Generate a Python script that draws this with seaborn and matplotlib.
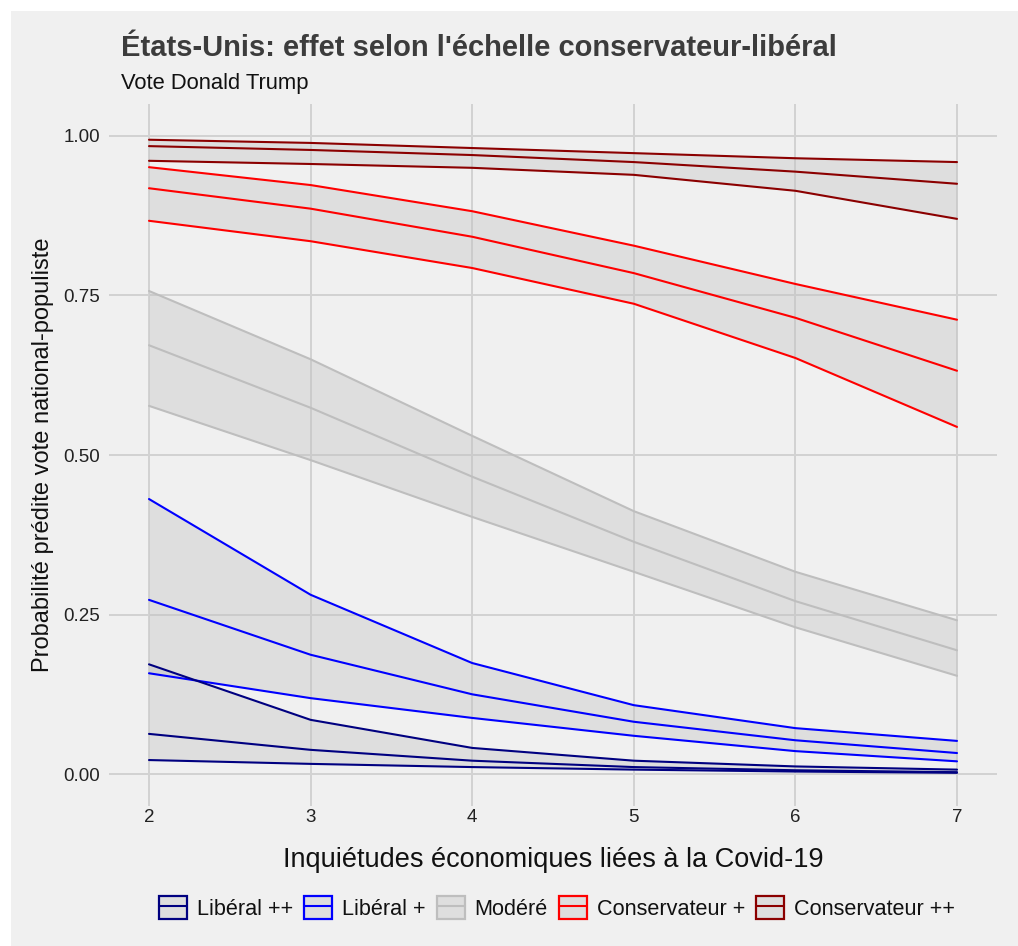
import numpy as np
import pandas as pd
import matplotlib
matplotlib.use("Agg")
import matplotlib.pyplot as plt
import seaborn as sns
from matplotlib.patches import Patch, Rectangle
from matplotlib.lines import Line2D
from matplotlib.legend_handler import HandlerTuple

x_vals = [2, 3, 4, 5, 6, 7]
groups = ["Libéral ++", "Libéral +", "Modéré", "Conservateur +", "Conservateur ++"]
colors = ["#000080", "#0000FF", "#BEBEBE", "#FF0000", "#8B0000"]

lib2_est = [0.063, 0.038, 0.021, 0.011, 0.006, 0.003]
lib2_lo = [0.022, 0.016, 0.011, 0.007, 0.004, 0.002]
lib2_hi = [0.172, 0.085, 0.041, 0.021, 0.012, 0.007]

lib1_est = [0.273, 0.187, 0.125, 0.082, 0.053, 0.033]
lib1_lo = [0.158, 0.119, 0.088, 0.060, 0.036, 0.020]
lib1_hi = [0.431, 0.281, 0.174, 0.108, 0.072, 0.052]

mod_est = [0.672, 0.574, 0.466, 0.364, 0.271, 0.194]
mod_lo = [0.577, 0.492, 0.403, 0.317, 0.230, 0.154]
mod_hi = [0.757, 0.650, 0.530, 0.412, 0.317, 0.241]

con1_est = [0.918, 0.886, 0.842, 0.785, 0.715, 0.632]
con1_lo = [0.867, 0.835, 0.793, 0.737, 0.652, 0.544]
con1_hi = [0.951, 0.923, 0.882, 0.828, 0.768, 0.712]

con2_est = [0.984, 0.978, 0.970, 0.959, 0.944, 0.925]
con2_lo = [0.961, 0.956, 0.950, 0.939, 0.914, 0.870]
con2_hi = [0.994, 0.989, 0.981, 0.973, 0.965, 0.959]

series = {
    "Libéral ++": (lib2_est, lib2_lo, lib2_hi),
    "Libéral +": (lib1_est, lib1_lo, lib1_hi),
    "Modéré": (mod_est, mod_lo, mod_hi),
    "Conservateur +": (con1_est, con1_lo, con1_hi),
    "Conservateur ++": (con2_est, con2_lo, con2_hi),
}

rows = []
for g in groups:
    e, lo, hi = series[g]
    for xi, a, b, c in zip(x_vals, e, lo, hi):
        rows.append({"x": xi, "group": g, "est": a, "lo": b, "hi": c})
df = pd.DataFrame(rows)

sns.set_theme(style="white")
plt.rcParams["font.family"] = ["Liberation Sans", "DejaVu Sans"]

BG = "#F0F0F0"
GRID = "#D2D2D2"

fig = plt.figure(figsize=(10.18, 9.46), dpi=100)
fig.patch.set_facecolor("white")
fig.patches.append(Rectangle((11 / 1018, 0), 1, 1 - 11 / 946, transform=fig.transFigure,
                             facecolor=BG, edgecolor="none", zorder=-10))
ax = fig.add_axes([108.6 / 1018, 1 - 806 / 946, (997.4 - 108.6) / 1018, (806 - 104) / 946])
ax.set_facecolor(BG)

palette = dict(zip(groups, colors))
for g in groups:
    d = df[df.group == g]
    ax.fill_between(d["x"], d["lo"], d["hi"], color="#BEBEBE", alpha=0.35, linewidth=0, zorder=1)
for col in ["lo", "hi", "est"]:
    sns.lineplot(data=df, x="x", y=col, hue="group", palette=palette, hue_order=groups,
                 linewidth=1.5, legend=False, ax=ax, zorder=3)

ax.set_xlim(1.75, 7.25)
ax.set_ylim(-0.05, 1.05)
ax.set_xticks(x_vals)
ax.set_yticks([0, 0.25, 0.5, 0.75, 1.0])
ax.set_yticklabels(["0.00", "0.25", "0.50", "0.75", "1.00"])
ax.grid(True, color=GRID, linewidth=1.4, zorder=0)
ax.set_axisbelow(True)
for s in ax.spines.values():
    s.set_visible(False)
ax.tick_params(axis="both", length=0, labelsize=13.5, colors="#222222")
ax.tick_params(axis="y", pad=6)
ax.tick_params(axis="x", pad=2)

ax.set_xlabel("Inquiétudes économiques liées à la Covid-19", fontsize=19.5, color="#111111")
ax.xaxis.set_label_coords(0.5, -0.0584)
ax.set_ylabel("Probabilité prédite vote national-populiste", fontsize=17, color="#111111")
ax.yaxis.set_label_coords(-0.0614, 0.5)

fig.text(121 / 1018, 1 - 48 / 946, "États-Unis: effet selon l'échelle conservateur-libéral",
         fontsize=21, fontweight="bold", color="#3C3C3C", va="center", ha="left")
fig.text(121 / 1018, 1 - 83 / 946, "Vote Donald Trump", fontsize=15.8, color="#111111",
         va="center", ha="left")

handles = [(Patch(facecolor="#DEDEDE", edgecolor=c, linewidth=1.6),
            Line2D([], [], color=c, linewidth=1.5)) for c in colors]
leg = fig.legend(handles, groups, handler_map={tuple: HandlerTuple(ndivide=1)},
                 loc="center", bbox_to_anchor=(557 / 1018, 1 - 908 / 946), ncol=5,
                 frameon=False, fontsize=15.6, handlelength=1.29, handleheight=1.29,
                 columnspacing=0.5, handletextpad=0.46, labelcolor="#111111",
                 borderpad=0.2)

fig.savefig("out.png", dpi=100, facecolor=fig.get_facecolor())
